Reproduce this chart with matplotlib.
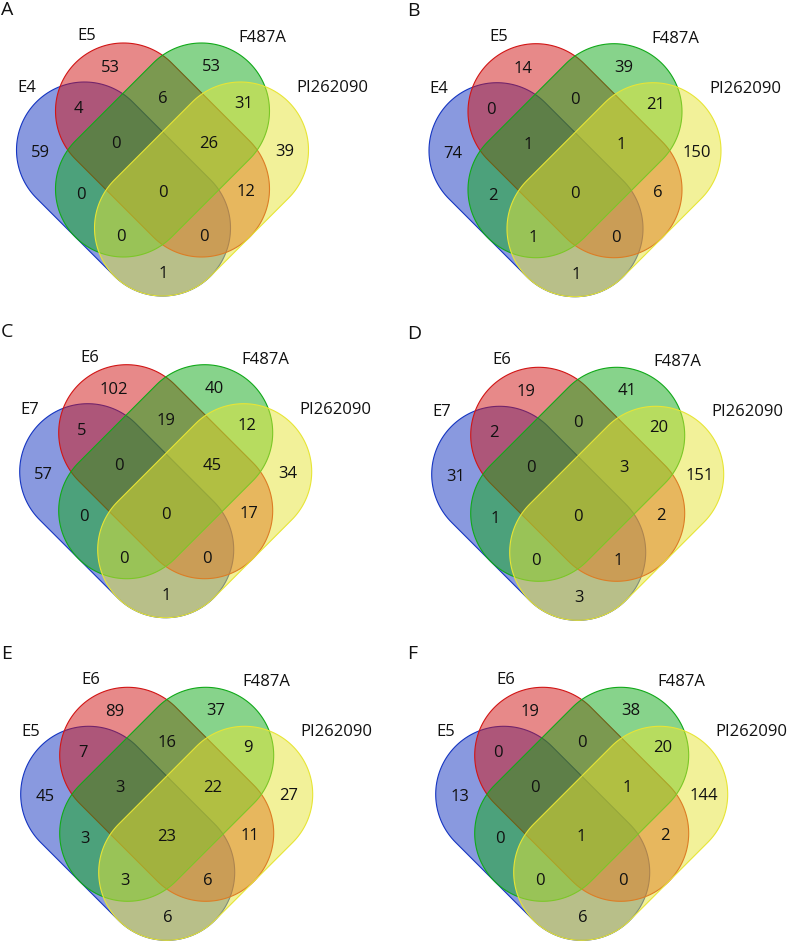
import numpy as np
import matplotlib
matplotlib.use("Agg")
import matplotlib.pyplot as plt
from matplotlib.patches import Polygon

plt.rcParams["font.family"] = ["Open Sans", "DejaVu Sans"]

# panel letters and set names (blue, red, green, yellow)
panel_letters = ["A", "B", "C", "D", "E", "F"]
set_names_A = ["E4", "E5", "F487A", "PI262090"]
set_names_B = ["E4", "E5", "F487A", "PI262090"]
set_names_C = ["E7", "E6", "F487A", "PI262090"]
set_names_D = ["E7", "E6", "F487A", "PI262090"]
set_names_E = ["E5", "E6", "F487A", "PI262090"]
set_names_F = ["E5", "E6", "F487A", "PI262090"]

# regions: 1=blue, 2=red, 3=green, 4=yellow
region_keys = ["1", "2", "3", "4", "12", "23", "34", "13", "24", "14",
               "123", "234", "134", "124", "1234"]
counts_A = [59, 53, 53, 39, 4, 6, 31, 0, 12, 1, 0, 26, 0, 0, 0]
counts_B = [74, 14, 39, 150, 0, 0, 21, 2, 6, 1, 1, 1, 1, 0, 0]
counts_C = [57, 102, 40, 34, 5, 19, 12, 0, 17, 1, 0, 45, 0, 0, 0]
counts_D = [31, 19, 41, 151, 2, 0, 20, 1, 2, 3, 0, 3, 0, 1, 0]
counts_E = [45, 89, 37, 27, 7, 16, 9, 3, 11, 6, 3, 22, 3, 6, 23]
counts_F = [13, 19, 38, 144, 0, 0, 20, 0, 2, 6, 0, 1, 0, 0, 1]

panels = [
    ("A", set_names_A, counts_A),
    ("B", set_names_B, counts_B),
    ("C", set_names_C, counts_C),
    ("D", set_names_D, counts_D),
    ("E", set_names_E, counts_E),
    ("F", set_names_F, counts_F),
]

# ---- layout (pixels, y down) ----
W, H = 787, 945
centers = [(162.5, 190), (575, 190.7), (165.7, 511.7),
           (577.7, 514.3), (166.7, 834.3), (581.7, 834.3)]
letter_x = [1, 407, 1, 407, 1, 407]

A_ = 39   # axis half step
R = 68    # capsule radius
ends = [((-2 * A_, -A_), (0, A_)),      # blue
        ((-A_, -2 * A_), (A_, 0)),      # red
        ((A_, -2 * A_), (-A_, 0)),      # green
        ((2 * A_, -A_), (0, A_))]       # yellow
fills = [(21, 53, 193), (209, 21, 21), (17, 169, 25), (231, 229, 53)]

region_pos = {
    "1": (-122, -37), "2": (-52, -122), "3": (49, -123), "4": (122, -38),
    "12": (-84, -81), "23": (0, -91), "34": (81, -86), "13": (-82, 5),
    "24": (83, 2), "14": (1, 84), "123": (-47, -46), "234": (46, -46),
    "134": (-42, 47), "124": (41, 47), "1234": (0, 3),
}
label_pos = [(-136, -102), (-76, -154), (100, -152), (170, -102)]


def capsule(p1, p2, r, n=80):
    p1, p2 = np.array(p1, float), np.array(p2, float)
    d = p2 - p1
    ang = np.arctan2(d[1], d[0])
    t = np.linspace(ang - np.pi / 2, ang + np.pi / 2, n)
    cap2 = p2 + r * np.c_[np.cos(t), np.sin(t)]
    cap1 = p1 + r * np.c_[np.cos(t + np.pi), np.sin(t + np.pi)]
    return np.vstack([cap2, cap1])


fig = plt.figure(figsize=(W / 100, H / 100), dpi=100)
ax = fig.add_axes([0, 0, 1, 1])
ax.set_xlim(0, W)
ax.set_ylim(H, 0)
ax.axis("off")

for i, (letter, names, counts) in enumerate(panels):
    cx, cy = centers[i]
    for (p1, p2), col in zip(ends, fills):
        rgb = np.array(col) / 255
        pts = capsule((cx + p1[0], cy + p1[1]), (cx + p2[0], cy + p2[1]), R)
        ax.add_patch(Polygon(pts, closed=True, facecolor=(*rgb, 0.5),
                             edgecolor=(*rgb, 1.0), linewidth=0.8))
    for key, v in zip(region_keys, counts):
        dx, dy = region_pos[key]
        ax.text(cx + dx, cy + dy, str(v), ha="center", va="center",
                fontsize=12, color="#111111")
    for name, (dx, dy) in zip(names, label_pos):
        ax.text(cx + dx, cy + dy, name, ha="center", va="center",
                fontsize=12, color="#111111")
    ax.text(letter_x[i], cy - 189, letter, ha="left", va="top",
            fontsize=14, color="#111111")

fig.savefig("out.png", dpi=100)
